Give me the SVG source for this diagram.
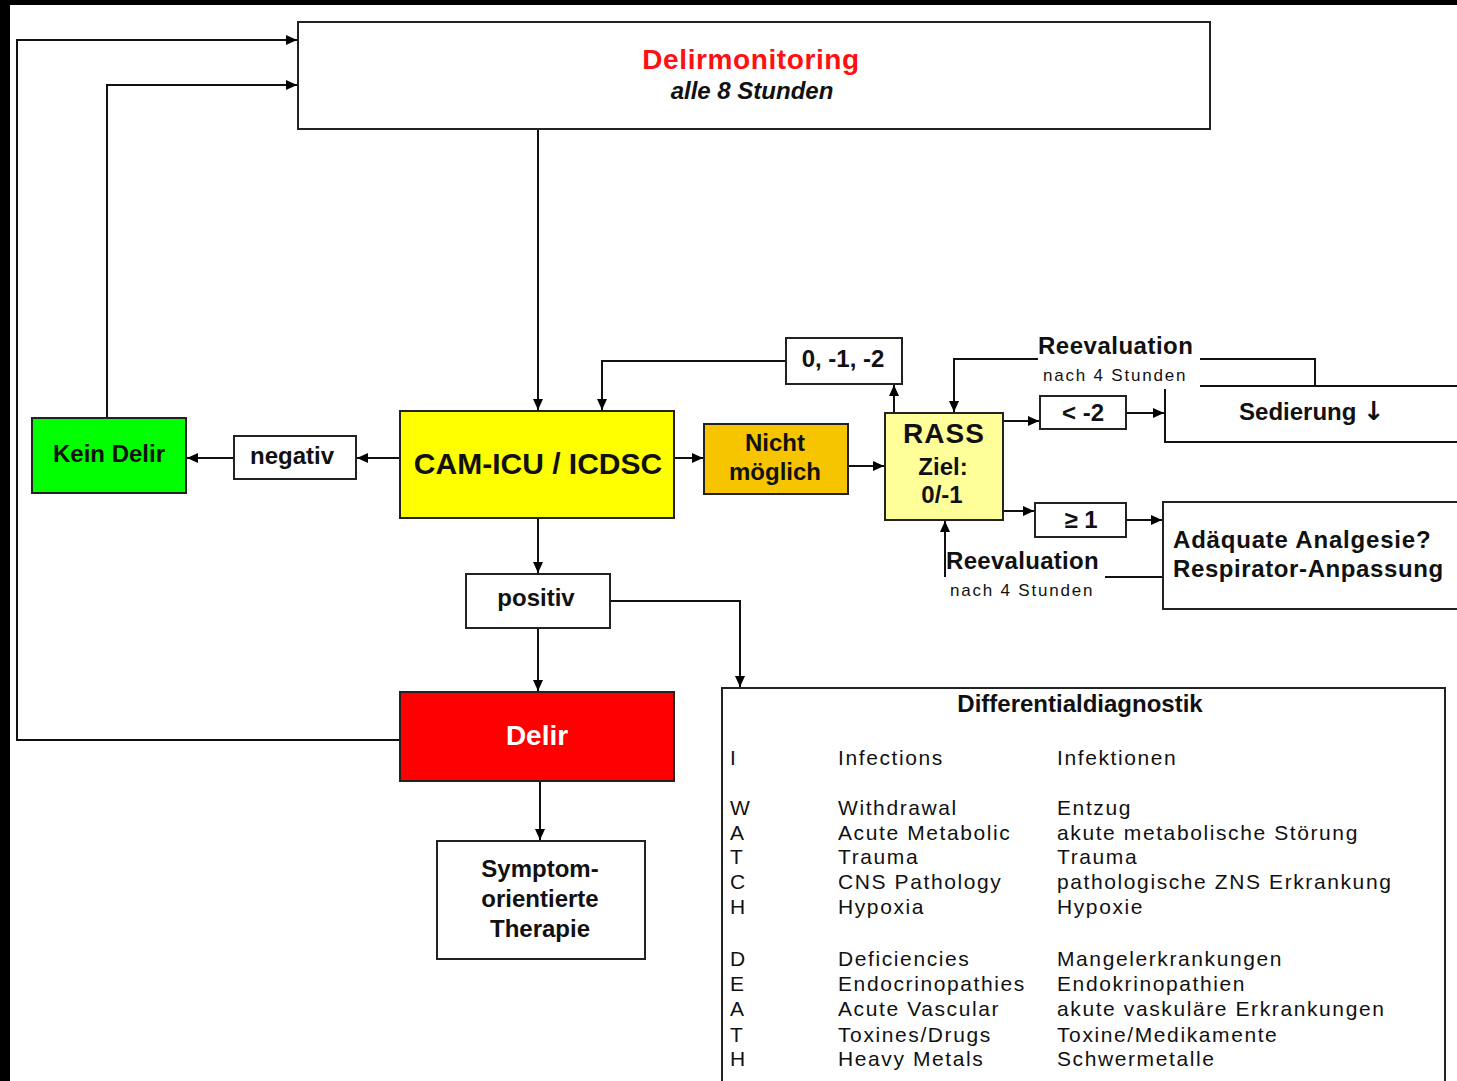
<svg xmlns="http://www.w3.org/2000/svg" width="1457" height="1081" viewBox="0 0 1457 1081">
<defs>
<marker id="ah" markerUnits="userSpaceOnUse" markerWidth="12" markerHeight="12" refX="11" refY="6" orient="auto">
<path d="M0,1 L11,6 L0,11 z" fill="#000"/>
</marker>
<style>
.box{fill:#fff;stroke:#222;stroke-width:2}
.ln{fill:none;stroke:#111;stroke-width:2}
.b{font-family:"Liberation Sans",Arial,sans-serif;font-weight:bold;fill:#111}
.n{font-family:"Liberation Sans",Arial,sans-serif;fill:#111}
.c{text-anchor:middle}
.sm{font-family:"Liberation Sans",Arial,sans-serif;font-size:17px;letter-spacing:1.8px;fill:#111}
.dd{font-family:"Liberation Sans",Arial,sans-serif;font-size:21px;letter-spacing:1.6px;fill:#111}
</style>
</defs>
<rect x="0" y="0" width="1457" height="1081" fill="#000"/>
<rect x="10" y="5" width="1447" height="1076" fill="#fff"/>

<g id="connectors">
<path class="ln" d="M400,740 H17 V40 H297" marker-end="url(#ah)"/>
<path class="ln" d="M107,418 V85 H297" marker-end="url(#ah)"/>
<path class="ln" d="M538,129 V410" marker-end="url(#ah)"/>
<path class="ln" d="M400,458 H357" marker-end="url(#ah)"/>
<path class="ln" d="M234,458 H187" marker-end="url(#ah)"/>
<path class="ln" d="M786,361 H602 V410" marker-end="url(#ah)"/>
<path class="ln" d="M894,413 V385" marker-end="url(#ah)"/>
<path class="ln" d="M674,458 H703" marker-end="url(#ah)"/>
<path class="ln" d="M848,466 H884" marker-end="url(#ah)"/>
<path class="ln" d="M1315,386 V359 H1200"/>
<path class="ln" d="M1038,359 H954 V412" marker-end="url(#ah)"/>
<path class="ln" d="M1003,421 H1039" marker-end="url(#ah)"/>
<path class="ln" d="M1126,413 H1164" marker-end="url(#ah)"/>
<path class="ln" d="M1003,511 H1034" marker-end="url(#ah)"/>
<path class="ln" d="M1126,520 H1162" marker-end="url(#ah)"/>
<path class="ln" d="M1163,577 H1105"/>
<path class="ln" d="M945,577 V521" marker-end="url(#ah)"/>
<path class="ln" d="M538,518 V573" marker-end="url(#ah)"/>
<path class="ln" d="M538,628 V691" marker-end="url(#ah)"/>
<path class="ln" d="M610,601 H740 V687" marker-end="url(#ah)"/>
<path class="ln" d="M540,781 V840" marker-end="url(#ah)"/>
</g>

<g id="monitoring">
<rect class="box" x="298" y="22" width="912" height="107"/>
<text class="b c" x="751" y="69" font-size="28" style="fill:#ff1010" letter-spacing="0.6">Delirmonitoring</text>
<text class="b c" x="752" y="99" font-size="24" font-style="italic">alle 8 Stunden</text>
</g>

<g id="kein-delir">
<rect x="32" y="418" width="154" height="75" fill="#00ff00" stroke="#222" stroke-width="2"/>
<text class="b c" x="109" y="462" font-size="24">Kein Delir</text>
</g>

<g id="negativ">
<rect class="box" x="234" y="436" width="122" height="43"/>
<text class="b c" x="292" y="464" font-size="24">negativ</text>
</g>

<g id="cam-icu">
<rect x="400" y="411" width="274" height="107" fill="#ffff00" stroke="#222" stroke-width="2"/>
<text class="b c" x="538" y="474" font-size="30">CAM-ICU / ICDSC</text>
</g>

<g id="werte">
<rect class="box" x="786" y="338" width="116" height="46"/>
<text class="b c" x="843" y="367" font-size="24">0, -1, -2</text>
</g>

<g id="nicht-moeglich">
<rect x="704" y="424" width="144" height="70" fill="#f7c500" stroke="#222" stroke-width="2"/>
<text class="b c" x="775" y="451" font-size="24">Nicht</text>
<text class="b c" x="775" y="480" font-size="24">möglich</text>
</g>

<g id="rass">
<rect x="885" y="413" width="118" height="107" fill="#ffff99" stroke="#222" stroke-width="2"/>
<text class="b c" x="944" y="443" font-size="28" letter-spacing="1">RASS</text>
<text class="b c" x="943" y="475" font-size="24">Ziel:</text>
<text class="b c" x="942" y="503" font-size="24">0/-1</text>
</g>

<g id="reevaluation-oben">
<text class="b" x="1038" y="354" font-size="24" letter-spacing="0.5">Reevaluation</text>
<text class="sm" x="1043" y="381">nach 4 Stunden</text>
</g>

<g id="kleiner-2">
<rect class="box" x="1040" y="396" width="86" height="33"/>
<text class="b c" x="1083" y="421" font-size="24">&lt; -2</text>
</g>

<g id="sedierung">
<path class="ln" d="M1200,386 H1460 M1165,389 V442 H1460"/>
<text class="b c" x="1312" y="420" font-size="24">Sedierung <tspan font-family="DejaVu Sans, sans-serif" font-size="26">↓</tspan></text>
</g>

<g id="groesser-1">
<rect class="box" x="1035" y="503" width="91" height="34"/>
<text class="b c" x="1081" y="528" font-size="24">≥ 1</text>
</g>

<g id="analgesie">
<rect class="box" x="1163" y="502" width="300" height="107"/>
<text class="b" x="1173" y="548" font-size="24" letter-spacing="0.8">Adäquate Analgesie?</text>
<text class="b" x="1173" y="577" font-size="24" letter-spacing="0.6">Respirator-Anpassung</text>
</g>

<g id="reevaluation-unten">
<text class="b" x="946" y="569" font-size="24" letter-spacing="0.3">Reevaluation</text>
<text class="sm" x="950" y="596">nach 4 Stunden</text>
</g>

<g id="positiv">
<rect class="box" x="466" y="574" width="144" height="54"/>
<text class="b c" x="536" y="606" font-size="24">positiv</text>
</g>

<g id="delir">
<rect x="400" y="692" width="274" height="89" fill="#ff0000" stroke="#222" stroke-width="2"/>
<text class="b c" x="537" y="745" font-size="28" style="fill:#fff">Delir</text>
</g>

<g id="therapie">
<rect class="box" x="437" y="841" width="208" height="118"/>
<text class="b c" x="540" y="877" font-size="24">Symptom-</text>
<text class="b c" x="540" y="907" font-size="24">orientierte</text>
<text class="b c" x="540" y="937" font-size="24">Therapie</text>
</g>

<g id="differentialdiagnostik">
<rect class="box" x="722" y="688" width="723" height="400"/>
<text class="b c" x="1080" y="712" font-size="24">Differentialdiagnostik</text>
<g class="dd">
<text x="730" y="765">I</text><text x="838" y="765">Infections</text><text x="1057" y="765">Infektionen</text>
<text x="730" y="815">W</text><text x="838" y="815">Withdrawal</text><text x="1057" y="815">Entzug</text>
<text x="730" y="840">A</text><text x="838" y="840">Acute Metabolic</text><text x="1057" y="840">akute metabolische Störung</text>
<text x="730" y="864">T</text><text x="838" y="864">Trauma</text><text x="1057" y="864">Trauma</text>
<text x="730" y="889">C</text><text x="838" y="889">CNS Pathology</text><text x="1057" y="889">pathologische ZNS Erkrankung</text>
<text x="730" y="914">H</text><text x="838" y="914">Hypoxia</text><text x="1057" y="914">Hypoxie</text>
<text x="730" y="966">D</text><text x="838" y="966">Deficiencies</text><text x="1057" y="966">Mangelerkrankungen</text>
<text x="730" y="991">E</text><text x="838" y="991">Endocrinopathies</text><text x="1057" y="991">Endokrinopathien</text>
<text x="730" y="1016">A</text><text x="838" y="1016">Acute Vascular</text><text x="1057" y="1016">akute vaskuläre Erkrankungen</text>
<text x="730" y="1042">T</text><text x="838" y="1042">Toxines/Drugs</text><text x="1057" y="1042">Toxine/Medikamente</text>
<text x="730" y="1066">H</text><text x="838" y="1066">Heavy Metals</text><text x="1057" y="1066">Schwermetalle</text>
</g>
</g>
</svg>
